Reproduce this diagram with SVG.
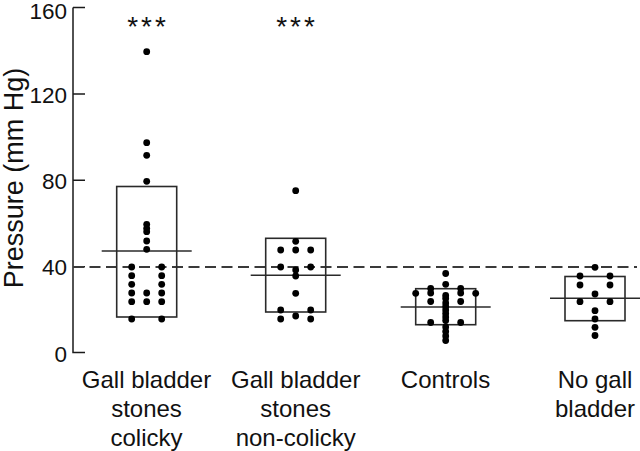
<svg xmlns="http://www.w3.org/2000/svg" width="640" height="451" viewBox="0 0 640 451">
<defs>
<style>
.ax{stroke:#1a1a1a;stroke-width:1.5;fill:none}
.box{stroke:#2a2a2a;stroke-width:1.6;fill:none}
.med{stroke:#2a2a2a;stroke-width:1.6}
.ref{stroke:#3a3a3a;stroke-width:2;stroke-dasharray:11 5.5}
.dot{fill:#000}
text{font-family:"Liberation Sans",Arial,sans-serif;fill:#111}
.tk{font-size:22.5px;text-anchor:end}
.lb{font-size:24px;text-anchor:middle}
.st{font-size:28px;text-anchor:middle;letter-spacing:3px}
</style>
<circle id="d" r="3.4" class="dot"/>
</defs>
<rect width="640" height="451" fill="#fff"/>
<g id="axis">
<path class="ax" d="M73,7.5V352.5H85M73,7.5H85M73,94H85M73,180.3H85M73,266.7H85"/>
<text class="tk" x="67" y="18.5">160</text>
<text class="tk" x="67" y="102.5">120</text>
<text class="tk" x="67" y="188.8">80</text>
<text class="tk" x="67" y="275">40</text>
<text class="tk" x="67" y="362">0</text>
<text x="22.5" y="178" font-size="27" text-anchor="middle" transform="rotate(-90 22.5 178)">Pressure (mm Hg)</text>
</g>
<g id="reference-line">
<line class="ref" x1="73" y1="267" x2="637" y2="267"/>
</g>
<g id="colicky">
<rect class="box" x="116.7" y="186.5" width="60" height="130.5"/>
<line class="med" x1="101.7" y1="251" x2="191.7" y2="251"/>
<g transform="translate(146.7,0)">
<use href="#d" y="51.7"/><use href="#d" y="142.7"/><use href="#d" y="155.3"/><use href="#d" y="181.3"/><use href="#d" y="224.3"/><use href="#d" y="228.3"/><use href="#d" y="231.7"/><use href="#d" y="241"/><use href="#d" y="249.3"/><use href="#d" y="293"/><use href="#d" y="301.7"/>
</g>
<g transform="translate(131.7,0)">
<use href="#d" y="267"/><use href="#d" y="275.7"/><use href="#d" y="284.3"/><use href="#d" y="293"/><use href="#d" y="301.7"/><use href="#d" y="319"/>
</g>
<g transform="translate(161.7,0)">
<use href="#d" y="267"/><use href="#d" y="275.7"/><use href="#d" y="284.3"/><use href="#d" y="293"/><use href="#d" y="301.7"/><use href="#d" y="319"/>
</g>
<text class="st" x="148" y="36">***</text>
<text class="lb" x="146.5" y="388">Gall bladder</text>
<text class="lb" x="146.5" y="417">stones</text>
<text class="lb" x="146.5" y="446">colicky</text>
</g>
<g id="non-colicky">
<rect class="box" x="265.7" y="238.3" width="60" height="73.7"/>
<line class="med" x1="250.7" y1="275.3" x2="340.7" y2="275.3"/>
<g transform="translate(295.7,0)">
<use href="#d" y="190.7"/><use href="#d" y="241.3"/><use href="#d" y="250"/><use href="#d" y="270"/><use href="#d" y="276"/><use href="#d" y="293.3"/><use href="#d" y="316"/>
</g>
<g transform="translate(280.7,0)">
<use href="#d" y="250"/><use href="#d" y="267"/><use href="#d" y="310"/><use href="#d" y="319"/>
</g>
<g transform="translate(310.7,0)">
<use href="#d" y="250"/><use href="#d" y="267"/><use href="#d" y="310"/><use href="#d" y="319"/>
</g>
<text class="st" x="297" y="36">***</text>
<text class="lb" x="295.7" y="388">Gall bladder</text>
<text class="lb" x="295.7" y="417">stones</text>
<text class="lb" x="295.7" y="446">non-colicky</text>
</g>
<g id="controls">
<rect class="box" x="415.7" y="288.7" width="60" height="36"/>
<line class="med" x1="400.7" y1="307" x2="490.7" y2="307"/>
<g transform="translate(445.7,0)">
<use href="#d" y="273.5"/><use href="#d" y="284.3"/><use href="#d" y="295.5"/><use href="#d" y="298.5"/><use href="#d" y="303"/><use href="#d" y="306.5"/><use href="#d" y="310"/><use href="#d" y="313.5"/><use href="#d" y="317"/><use href="#d" y="320.5"/><use href="#d" y="327"/><use href="#d" y="331.5"/><use href="#d" y="336"/><use href="#d" y="340.5"/>
</g>
<g transform="translate(430.7,0)">
<use href="#d" y="288.5"/><use href="#d" y="293"/><use href="#d" y="301.5"/><use href="#d" y="322.5"/>
</g>
<g transform="translate(460.7,0)">
<use href="#d" y="288.5"/><use href="#d" y="293"/><use href="#d" y="301.5"/><use href="#d" y="322.5"/>
</g>
<use href="#d" x="415.7" y="293.3"/><use href="#d" x="475.7" y="293.3"/>
<text class="lb" x="445.5" y="388">Controls</text>
</g>
<g id="no-gall-bladder">
<rect class="box" x="565" y="276.5" width="60" height="44.2"/>
<line class="med" x1="550" y1="298.3" x2="640" y2="298.3"/>
<g transform="translate(595,0)">
<use href="#d" y="267.3"/><use href="#d" y="294"/><use href="#d" y="310.7"/><use href="#d" y="319"/><use href="#d" y="327.3"/><use href="#d" y="335.5"/>
</g>
<g transform="translate(580,0)">
<use href="#d" y="276"/><use href="#d" y="285"/><use href="#d" y="301.7"/>
</g>
<g transform="translate(610,0)">
<use href="#d" y="276"/><use href="#d" y="285"/><use href="#d" y="301.7"/>
</g>
<text class="lb" x="595" y="388">No gall</text>
<text class="lb" x="595" y="417">bladder</text>
</g>
</svg>
